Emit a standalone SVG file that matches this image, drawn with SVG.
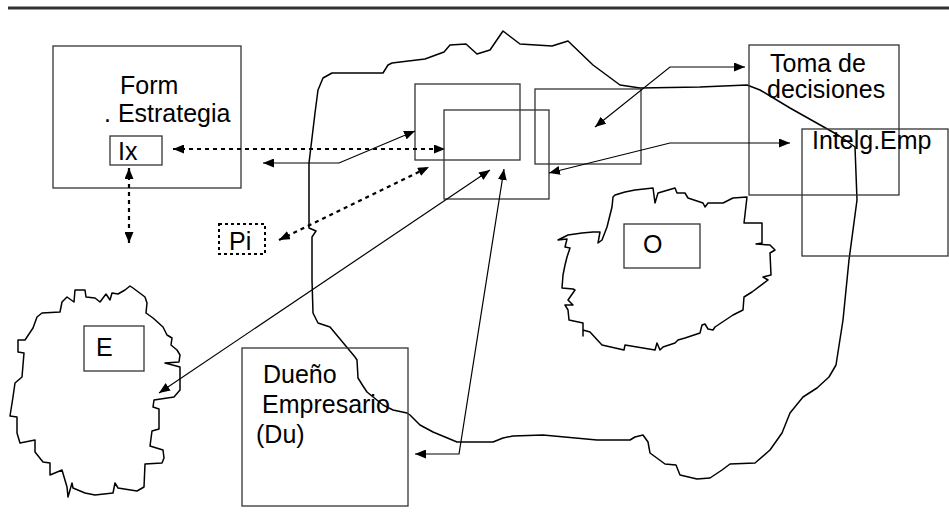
<svg xmlns="http://www.w3.org/2000/svg" width="949" height="530" viewBox="0 0 949 530">
<defs>
<marker id="ah" viewBox="0 0 11 9" refX="11" refY="4.5" markerWidth="11" markerHeight="9" markerUnits="userSpaceOnUse" orient="auto-start-reverse">
<path d="M0,0 L11,4.5 L0,9 z" fill="#000"/>
</marker>
<style>
.box{fill:none;stroke:#333;stroke-width:1.3}
.blob{fill:none;stroke:#000;stroke-width:1.5;stroke-linejoin:round}
.t{font-family:"Liberation Sans",Arial,sans-serif;font-size:25px;fill:#000}
.ln{fill:none;stroke:#000;stroke-width:1.2}
.dot{fill:none;stroke:#000;stroke-width:2.2;stroke-dasharray:4 4}
</style>
</defs>
<rect width="949" height="530" fill="#fff"/>
<line x1="8" y1="8" x2="949" y2="8" stroke="#333" stroke-width="3"/>

<g id="blob-main">
<path class="blob" d="M332,73 L383,73 L388,65 L392,63 L425,59 L444,52 L450,45 L466,44 L477,54 L490,50 L503,31 L520,44 L552,46 L568,41 L593,65 L620,85 L640,88 L700,87 L747,85 L760,90 L790,108 L838,135 L855,147 L857,200 L849,260 L847,280 L843,320 L836,365 L829,377 L817,388 L803,397 L790,413 L782,433 L770,450 L755,463 L730,464 L722,470 L710,478 L697,479 L680,475 L676,465 L665,464 L650,453 L648,442 L643,435 L635,437 L630,440 L597,440 L543,435 L513,436 L503,438 L493,442 L457,442 L433,432 L420,425 L410,415 L407,413 L393,410 L383,405 L367,392 L363,386 L358,378 L357,360 L355,357 L345,345 L330,327 L318,323 L313,313 L312,280 L312,237 L316,231 L309,228 L309,163 L315,113 L318,90 L323,78 Z"/>
</g>

<g id="blob-E">
<path class="blob" d="M130,286 L133,288 L145,297 L147,303 L146,313 L153,318 L163,327 L167,335 L172,338 L171,345 L177,350 L180,355 L179,362 L165,363 L180,367 L180,390 L174,397 L154,400 L153,407 L159,409 L159,429 L152,431 L150,446 L163,450 L164,458 L162,463 L145,464 L144,487 L137,491 L118,488 L115,483 L113,493 L95,495 L85,493 L73,488 L72,483 L68,497 L67,487 L62,470 L50,475 L50,463 L43,462 L35,452 L35,440 L20,443 L17,433 L17,417 L10,416 L13,397 L15,383 L22,377 L24,353 L18,352 L18,340 L25,340 L33,328 L37,317 L42,313 L60,312 L62,302 L67,297 L74,302 L75,290 L85,290 L86,297 L95,298 L100,302 L106,294 L110,300 L112,293 L118,294 L125,290 Z"/>
</g>

<g id="blob-O">
<path class="blob" d="M615,195 L625,192 L635,190 L653,188 L655,203 L658,193 L675,188 L677,193 L685,193 L688,198 L703,203 L705,207 L708,203 L723,203 L733,198 L747,197 L744,223 L762,223 L762,243 L756,244 L770,245 L775,250 L770,253 L771,275 L763,277 L768,280 L752,292 L744,297 L743,310 L733,315 L715,327 L713,330 L708,329 L705,324 L702,325 L700,333 L685,338 L678,340 L675,343 L663,347 L660,350 L657,343 L655,350 L625,345 L624,350 L602,345 L590,332 L583,330 L583,336 L583,323 L569,320 L568,310 L565,305 L573,305 L568,300 L575,290 L573,289 L562,288 L563,275 L565,265 L567,257 L570,248 L565,247 L567,239 L558,240 L568,235 L582,233 L593,232 L600,232 L598,243 L602,240 L607,227 L612,207 L613,197 Z"/>
</g>

<g id="node-form">
<rect class="box" x="53" y="46" width="188" height="142"/>
<text class="t" x="120" y="94">Form</text>
<text class="t" x="104" y="122">. Estrategia</text>
</g>
<g id="node-ix">
<rect class="box" x="110" y="136" width="52" height="29"/>
<text class="t" x="118" y="160">Ix</text>
</g>
<g id="node-pi">
<rect x="219" y="224" width="46" height="30" fill="none" stroke="#000" stroke-width="2" stroke-dasharray="3 3"/>
<text class="t" x="229" y="250">Pi</text>
</g>
<g id="node-boxA"><rect class="box" x="415" y="84" width="105" height="76"/></g>
<g id="node-boxB"><rect class="box" x="444" y="110" width="105" height="89"/></g>
<g id="node-boxC"><rect class="box" x="535" y="89" width="106" height="75"/></g>
<g id="node-toma">
<rect class="box" x="749" y="45" width="150" height="150"/>
<text class="t" x="770" y="72">Toma de</text>
<text class="t" x="767" y="98">decisiones</text>
</g>
<g id="node-intelg">
<rect class="box" x="802" y="129" width="146" height="127"/>
<text class="t" x="812" y="149">Intelg.Emp</text>
</g>
<g id="node-O">
<rect class="box" x="624" y="224" width="76" height="44"/>
<text class="t" x="643" y="253">O</text>
</g>
<g id="node-E">
<rect class="box" x="84" y="326" width="60" height="45"/>
<text class="t" x="96" y="356">E</text>
</g>
<g id="node-du">
<rect class="box" x="242" y="348" width="166" height="158"/>
<text class="t" x="263" y="383">Dueño</text>
<text class="t" x="262" y="413">Empresario</text>
<text class="t" x="256" y="443">(Du)</text>
</g>

<g id="connectors">
<line class="dot" x1="129" y1="168" x2="129" y2="243" marker-start="url(#ah)" marker-end="url(#ah)"/>
<line class="dot" x1="173" y1="149" x2="445" y2="149" marker-start="url(#ah)" marker-end="url(#ah)"/>
<line class="dot" x1="279" y1="240" x2="429" y2="167" marker-start="url(#ah)" marker-end="url(#ah)"/>
<polyline class="ln" points="263,163 339,163 415,131" marker-start="url(#ah)" marker-end="url(#ah)"/>
<polyline class="ln" points="595,127 670,67 745,67" marker-start="url(#ah)" marker-end="url(#ah)"/>
<polyline class="ln" points="549,173 670,143 790,143" marker-start="url(#ah)" marker-end="url(#ah)"/>
<line class="ln" x1="159" y1="393" x2="490" y2="170" marker-start="url(#ah)" marker-end="url(#ah)"/>
<polyline class="ln" points="415,454 459,454 504,169" marker-start="url(#ah)" marker-end="url(#ah)"/>
</g>
</svg>
